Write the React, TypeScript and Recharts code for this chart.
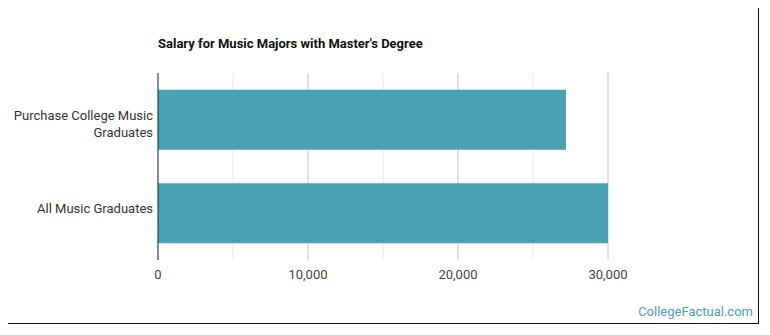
import { Bar, BarChart, CartesianGrid, Text, XAxis, YAxis } from 'recharts'

const categories = ['Purchase College Music Graduates', 'All Music Graduates']
const salaries = [27200, 30000]
const xTicks = [0, 5000, 10000, 15000, 20000, 25000, 30000]
const majorTicks = [10000, 20000, 30000]
const xMax = 30000

const data = categories.map((name, i) => ({ name, salary: salaries[i] }))

const fontFamily = 'Roboto, sans-serif'

const CategoryTick = (props: any) => {
  const { x, y, payload } = props
  return (
    <Text
      x={x - 3}
      y={y}
      width={175}
      textAnchor='end'
      verticalAnchor='middle'
      lineHeight={17}
      fill='#333'
      fontSize={13}
      fontFamily={fontFamily}
    >
      {payload.value}
    </Text>
  )
}

const majorLines = ({ offset }: any) =>
  majorTicks.map((t) => offset.left + (offset.width * t) / xMax)

const App = () => {
  return (
    <div
      style={{
        position: 'relative',
        width: '752px',
        height: '317px',
        boxSizing: 'border-box',
        border: '1px solid #111',
        marginTop: '-1px',
        marginLeft: '-1px',
        fontFamily,
      }}
    >
      <div
        style={{
          position: 'absolute',
          left: '150px',
          top: '28px',
          fontSize: '13px',
          fontWeight: 'bold',
          color: '#111',
        }}
      >
        Salary for Music Majors with Master's Degree
      </div>
      <BarChart
        width={750}
        height={315}
        data={data}
        layout='vertical'
        barCategoryGap='18%'
        margin={{ top: 65, right: 150, bottom: 33, left: 0 }}
      >
        <CartesianGrid horizontal={false} stroke='#e6e6e6' />
        <CartesianGrid horizontal={false} stroke='#cfcfcf' verticalCoordinatesGenerator={majorLines} />
        <XAxis
          type='number'
          domain={[0, xMax]}
          ticks={xTicks}
          axisLine={false}
          tickLine={false}
          height={30}
          tick={{ fill: '#444', fontSize: 13, fontFamily, dy: 2 }}
          tickFormatter={(v: number) => (v % 10000 === 0 ? v.toLocaleString('en-US') : '')}
        />
        <YAxis
          type='category'
          dataKey='name'
          width={150}
          axisLine={{ stroke: '#222' }}
          tickLine={false}
          tickSize={0}
          tick={<CategoryTick />}
        />
        <Bar dataKey='salary' fill='#4aa1b4' isAnimationActive={false} />
      </BarChart>
      <div
        style={{
          position: 'absolute',
          right: '5px',
          bottom: '4px',
          fontSize: '13px',
          color: '#4a9fb5',
        }}
      >
        CollegeFactual.com
      </div>
    </div>
  )
}

export default App
